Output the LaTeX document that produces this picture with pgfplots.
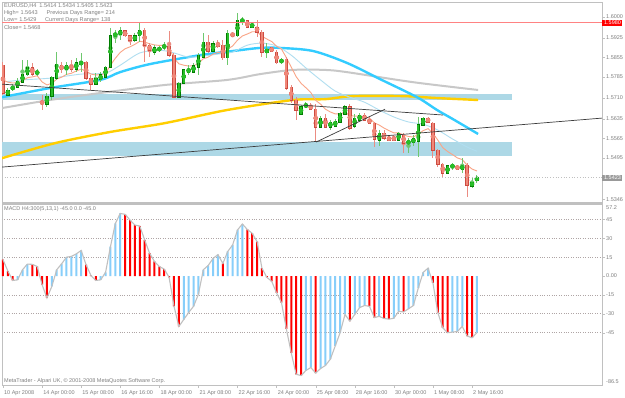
\documentclass[border=0pt]{standalone}
\usepackage{pgfplots}
\pgfplotsset{compat=1.18}
\usepackage{pgfplotstable}
\usepackage{fontspec}
\setmainfont{Liberation Sans}
\definecolor{bullfill}{RGB}{40,190,40}
\definecolor{bullline}{RGB}{0,125,0}
\definecolor{bullwick}{RGB}{110,200,110}
\definecolor{bearfill}{RGB}{240,135,120}
\definecolor{bearline}{RGB}{205,75,65}
\definecolor{bearwick}{RGB}{235,140,130}
\definecolor{skyma}{RGB}{51,204,255}
\definecolor{cyanma}{RGB}{176,222,240}
\definecolor{salmonma}{RGB}{250,165,135}
\definecolor{grayma}{RGB}{200,200,200}
\definecolor{goldma}{RGB}{255,206,0}
\definecolor{band}{RGB}{173,216,230}
\definecolor{redline}{RGB}{255,130,130}
\definecolor{txtgray}{RGB}{128,128,128}
\definecolor{framegray}{RGB}{192,192,192}
\definecolor{macdred}{RGB}{255,0,0}
\definecolor{macdblue}{RGB}{135,206,250}
\definecolor{macdline}{RGB}{192,192,192}
\definecolor{levelgray}{RGB}{175,165,165}
\definecolor{trend}{RGB}{60,60,60}
\newcommand\hf{\fontsize{5.6}{6.5}\selectfont}
\newcommand\af{\fontsize{5.5}{6}\selectfont}

\pgfplotstableread{
i o h l c
1 1.5720 1.5745 1.5716 1.5738
2 1.5738 1.5759 1.5734 1.5752
3 1.5748 1.5781 1.5745 1.5770
4 1.5766 1.5845 1.5763 1.5795
5 1.5792 1.5845 1.5788 1.5820
7 1.5799 1.5813 1.5788 1.5802
9 1.5687 1.5727 1.5677 1.5716
10 1.5716 1.5788 1.5702 1.5784
11 1.5781 1.5874 1.5774 1.5831
13 1.5810 1.5838 1.5792 1.5827
15 1.5813 1.5853 1.5802 1.5835
16 1.5831 1.5871 1.5802 1.5838
19 1.5759 1.5799 1.5756 1.5781
20 1.5774 1.5802 1.5766 1.5792
21 1.5784 1.5824 1.5781 1.5820
22 1.5820 1.5960 1.5817 1.5932
23 1.5935 1.5953 1.5906 1.5939
24 1.5939 1.5964 1.5917 1.5950
27 1.5917 1.5942 1.5910 1.5932
28 1.5932 1.5978 1.5910 1.5953
31 1.5874 1.5899 1.5863 1.5889
32 1.5881 1.5896 1.5874 1.5889
33 1.5889 1.5910 1.5881 1.5899
36 1.5712 1.5766 1.5709 1.5763
37 1.5763 1.5813 1.5759 1.5810
38 1.5802 1.5827 1.5792 1.5813
39 1.5802 1.5835 1.5799 1.5827
40 1.5820 1.5871 1.5792 1.5863
41 1.5856 1.5942 1.5853 1.5910
43 1.5878 1.5914 1.5874 1.5906
46 1.5853 1.5953 1.5827 1.5942
48 1.5932 1.6014 1.5928 1.5989
49 1.5986 1.6000 1.5971 1.5989
51 1.5964 1.5982 1.5960 1.5975
54 1.5871 1.5906 1.5853 1.5885
57 1.5835 1.5853 1.5831 1.5849
61 1.5651 1.5684 1.5648 1.5677
62 1.5677 1.5694 1.5673 1.5687
65 1.5605 1.5644 1.5601 1.5637
67 1.5605 1.5630 1.5594 1.5623
68 1.5608 1.5633 1.5605 1.5626
69 1.5623 1.5659 1.5619 1.5655
70 1.5651 1.5684 1.5648 1.5677
72 1.5608 1.5651 1.5601 1.5637
73 1.5630 1.5655 1.5626 1.5648
77 1.5558 1.5594 1.5536 1.5583
81 1.5558 1.5587 1.5554 1.5583
83 1.5547 1.5565 1.5511 1.5554
84 1.5551 1.5576 1.5536 1.5562
85 1.5554 1.5641 1.5497 1.5615
86 1.5612 1.5641 1.5608 1.5637
91 1.5439 1.5468 1.5436 1.5465
92 1.5461 1.5475 1.5450 1.5468
94 1.5454 1.5493 1.5439 1.5465
96 1.5393 1.5425 1.5386 1.5407
97 1.5414 1.5434 1.5405 1.5423
}\bull

\pgfplotstableread{
i o h l c
0 1.5827 1.5838 1.5720 1.5727
6 1.5817 1.5835 1.5788 1.5795
8 1.5696 1.5720 1.5666 1.5690
12 1.5827 1.5838 1.5799 1.5810
14 1.5827 1.5845 1.5802 1.5813
17 1.5838 1.5842 1.5774 1.5781
18 1.5781 1.5792 1.5738 1.5759
25 1.5950 1.5953 1.5928 1.5932
26 1.5932 1.5935 1.5899 1.5917
29 1.5953 1.5960 1.5838 1.5899
30 1.5899 1.5906 1.5856 1.5881
34 1.5896 1.5950 1.5856 1.5863
35 1.5863 1.5871 1.5709 1.5712
42 1.5910 1.5935 1.5871 1.5878
44 1.5906 1.5917 1.5889 1.5896
45 1.5899 1.5917 1.5845 1.5853
47 1.5939 1.5942 1.5928 1.5935
50 1.5986 1.5989 1.5960 1.5964
52 1.5964 1.5989 1.5928 1.5946
53 1.5946 1.5953 1.5856 1.5874
55 1.5889 1.5892 1.5874 1.5878
56 1.5874 1.5881 1.5831 1.5835
58 1.5849 1.5856 1.5738 1.5745
59 1.5748 1.5756 1.5691 1.5702
60 1.5702 1.5712 1.5630 1.5666
63 1.5684 1.5691 1.5666 1.5669
64 1.5669 1.5687 1.5551 1.5605
66 1.5637 1.5651 1.5601 1.5605
71 1.5677 1.5687 1.5594 1.5601
74 1.5648 1.5655 1.5626 1.5630
75 1.5633 1.5641 1.5615 1.5619
76 1.5619 1.5623 1.5533 1.5562
78 1.5583 1.5594 1.5558 1.5565
79 1.5569 1.5572 1.5554 1.5558
80 1.5569 1.5576 1.5554 1.5558
82 1.5576 1.5583 1.5511 1.5547
87 1.5637 1.5641 1.5619 1.5623
88 1.5619 1.5623 1.5493 1.5522
89 1.5522 1.5526 1.5461 1.5472
90 1.5472 1.5475 1.5425 1.5439
93 1.5465 1.5468 1.5450 1.5454
95 1.5468 1.5475 1.5353 1.5396
}\bear

\pgfplotstableread{
i m
0 13
1 4
2 -3.5
3 -3
4 5
5 9.5
6 9.3
7 7.6
8 -6.8
9 -17.4
10 -8.2
11 5
12 9.7
13 15
14 15.6
15 17.6
16 20.3
17 9
18 0.5
19 -3.5
20 -3
21 3
22 23.4
23 41.8
24 49.7
25 49
26 44.5
27 40.5
28 39.7
29 28.7
30 18.2
31 11.6
32 7.6
33 5.5
34 -1
35 -24
36 -40
37 -34.5
38 -29
39 -24
40 -14.5
41 5
42 8.4
43 14
44 17
45 10
46 19.5
47 24.7
48 36.6
49 41.3
50 37
51 34
52 27.4
53 6.3
54 -1
55 -4.2
56 -13.4
57 -21
58 -42
59 -61
60 -78
61 -79
62 -75
63 -72.6
64 -77
65 -73.4
66 -71
67 -66
68 -55.5
69 -45
70 -30.5
71 -35.8
72 -30.5
73 -25
74 -23.4
75 -24
76 -33
77 -32
78 -33.7
79 -34.2
80 -33.5
81 -28
82 -28.5
83 -26
84 -23.4
85 -9.5
86 2.9
87 6.3
88 -5.5
89 -29
90 -41
91 -45
92 -44.5
93 -44
94 -40
95 -47.6
96 -49
97 -45
}\macd

\pgfplotstableread{
i p
0 1.5774
1 1.5766
2 1.5763
3 1.5764
4 1.5771
5 1.5782
6 1.5785
7 1.5789
8 1.5767
9 1.5756
10 1.5762
11 1.5777
12 1.5784
13 1.5794
14 1.5798
15 1.5806
16 1.5813
17 1.5806
18 1.5795
19 1.5792
20 1.5792
21 1.5798
22 1.5827
23 1.5852
24 1.5873
25 1.5886
26 1.5893
27 1.5902
28 1.5913
29 1.5910
30 1.5904
31 1.5900
32 1.5898
33 1.5898
34 1.5891
35 1.5852
36 1.5832
37 1.5827
38 1.5824
39 1.5825
40 1.5833
41 1.5850
42 1.5856
43 1.5867
44 1.5873
45 1.5869
46 1.5885
47 1.5896
48 1.5917
49 1.5932
50 1.5939
51 1.5947
52 1.5947
53 1.5931
54 1.5921
55 1.5912
56 1.5895
57 1.5885
58 1.5854
59 1.5820
60 1.5786
61 1.5762
62 1.5746
63 1.5729
64 1.5701
65 1.5687
66 1.5669
67 1.5659
68 1.5652
69 1.5652
70 1.5658
71 1.5646
72 1.5644
73 1.5645
74 1.5641
75 1.5637
76 1.5620
77 1.5612
78 1.5601
79 1.5592
80 1.5584
81 1.5584
82 1.5576
83 1.5571
84 1.5569
85 1.5579
86 1.5592
87 1.5599
88 1.5582
89 1.5558
90 1.5531
91 1.5517
92 1.5506
93 1.5494
94 1.5488
95 1.5468
96 1.5454
97 1.5447
}\salmon

\pgfplotsset{
  candle/.style n args={2}{#1, only marks, mark=none,
    error bars/.cd, y dir=both, y explicit, error mark=none,
    error bar style={line width=#2, color=#1, draw=#1}},
}

\begin{document}
\begin{tikzpicture}
\useasboundingbox (0pt,0pt) rectangle (625pt,-397pt);
\fill[white] (0pt,0pt) rectangle (625pt,-397pt);

% ---------------- price panel ----------------
\begin{axis}[
  at={(2pt,-2pt)}, anchor=north west, scale only axis,
  width=600pt, height=201pt,
  xmin=-0.2, xmax=122.6, ymin=1.5332, ymax=1.6054,
  clip mode=individual,
  axis line style={framegray, line width=0.8pt},
  xtick=\empty,
  ytick={1.5346,1.5495,1.5565,1.5635,1.5710,1.5785,1.5855,1.5925,1.6000},
  yticklabels={1.5346,1.5495,1.5565,1.5635,1.5710,1.5785,1.5855,1.5925,1.6000},
  ytick pos=right, yticklabel pos=right, tick align=outside,
  major tick length=3pt, tick style={framegray},
  yticklabel style={font=\af, text=txtgray, anchor=west, inner sep=1pt},
]
% zones
\addplot[fill=band, draw=none] coordinates {(-0.2,1.5702) (104.2,1.5702) (104.2,1.5723) (-0.2,1.5723)} -- cycle;
\addplot[fill=band, draw=none] coordinates {(-0.2,1.5500) (104.2,1.5500) (104.2,1.5551) (-0.2,1.5551)} -- cycle;
% moving averages
\addplot[goldma, line width=2.4pt, smooth] coordinates {(-0.2,1.5493) (10.64,1.5547) (21.9,1.5587) (33.16,1.5619) (45.85,1.5666) (59.37,1.5702) (65.92,1.5705) (71.65,1.5716) (81.88,1.5716) (88.84,1.5709) (97.24,1.5702)};
\addplot[grayma, line width=2pt, smooth] coordinates {(-0.2,1.5673) (9.62,1.5702) (19.86,1.5727) (33.16,1.5756) (45.85,1.5774) (52.61,1.5795) (59.37,1.5810) (65.92,1.5810) (70.42,1.5802) (83.93,1.5766) (97.24,1.5738)};
\addplot[skyma, line width=2.4pt, smooth] coordinates {(-0.2,1.5712) (9.62,1.5745) (19.86,1.5774) (23.95,1.5802) (30.09,1.5831) (40.33,1.5863) (47.08,1.5878) (52.61,1.5889) (56.7,1.5889) (63.46,1.5878) (70.42,1.5835) (77.18,1.5777) (84.75,1.5712) (88.84,1.5666) (92.12,1.5633) (97.24,1.5580)};
\addplot[cyanma, line width=0.9pt, smooth] coordinates {(-0.2,1.5766) (4,1.5774) (10,1.5781) (16,1.5795) (21,1.5799) (24,1.5827) (28,1.5871) (32,1.5881) (35,1.5871) (38,1.5856) (41,1.5860) (44,1.5867) (47,1.5874) (50,1.5899) (53,1.5906) (56,1.5896) (59,1.5863) (62,1.5817) (65,1.5774) (68,1.5734) (71,1.5712) (74,1.5694) (77,1.5666) (80,1.5641) (83,1.5623) (86,1.5615) (89,1.5594) (92,1.5562) (95,1.5533) (97,1.5518)};
\addplot[salmonma, line width=0.9pt] table[x=i, y=p] {\salmon};
% candles: bull
\addplot[candle={bullwick}{1pt}]
  table[x=i, y expr={(\thisrow{h}+\thisrow{l})/2}, y error expr={(\thisrow{h}-\thisrow{l})/2}] {\bull};
\addplot[candle={bullline}{3.4pt}]
  table[x=i, y expr={(\thisrow{o}+\thisrow{c})/2}, y error expr={abs(\thisrow{o}-\thisrow{c})/2+0.00018}] {\bull};
\addplot[candle={bullfill}{1.8pt}]
  table[x=i, y expr={(\thisrow{o}+\thisrow{c})/2}, y error expr={max(abs(\thisrow{o}-\thisrow{c})/2-0.0001,0)}] {\bull};
% candles: bear
\addplot[candle={bearwick}{1pt}]
  table[x=i, y expr={(\thisrow{h}+\thisrow{l})/2}, y error expr={(\thisrow{h}-\thisrow{l})/2}] {\bear};
\addplot[candle={bearline}{3.4pt}]
  table[x=i, y expr={(\thisrow{o}+\thisrow{c})/2}, y error expr={abs(\thisrow{o}-\thisrow{c})/2+0.00018}] {\bear};
\addplot[candle={bearfill}{1.8pt}]
  table[x=i, y expr={(\thisrow{o}+\thisrow{c})/2}, y error expr={max(abs(\thisrow{o}-\thisrow{c})/2-0.0001,0)}] {\bear};
% trend lines and levels
\addplot[trend, line width=0.7pt] coordinates {(-0.2,1.5759) (90.07,1.5648)};
\addplot[trend, line width=0.7pt] coordinates {(-0.2,1.5461) (122.6,1.5637)};
\addplot[trend, line width=0.7pt] coordinates {(64.1,1.5551) (78.2,1.5669)};
\addplot[redline, line width=1.2pt] coordinates {(-0.2,1.5980) (122.6,1.5980)};
\addplot[framegray, dotted, line width=0.7pt] coordinates {(-0.2,1.5423) (122.6,1.5423)};
\node[fill=red, text=white, font=\af, anchor=west, inner sep=1pt] at (axis cs:122.6,1.5980) {\,1.5980};
\node[fill=gray!80, text=white, font=\af, anchor=west, inner sep=1pt] at (axis cs:122.6,1.5423) {\,1.5423};
\end{axis}

% ---------------- MACD panel ----------------
\begin{axis}[
  at={(2pt,-204pt)}, anchor=north west, scale only axis,
  width=600pt, height=181pt,
  xmin=-0.2, xmax=122.6, ymin=-86.5, ymax=57.2,
  clip mode=individual,
  axis line style={framegray, line width=0.8pt},
  xtick={0,8,16,24,32,40,48,56,64,72,80,88,96},
  xticklabels={10 Apr 2008,14 Apr 00:00,15 Apr 08:00,16 Apr 16:00,18 Apr 00:00,21 Apr 08:00,22 Apr 16:00,24 Apr 00:00,25 Apr 08:00,28 Apr 16:00,30 Apr 00:00,1 May 08:00,2 May 16:00},
  xtick pos=bottom, xticklabel pos=bottom,
  xticklabel style={font=\af, text=txtgray, anchor=north west, inner sep=0pt, xshift=1pt, yshift=-2pt},
  ytick={-45,-30,-15,15,30,45},
  yticklabels={-45,-30,-15,15,30,45},
  extra y ticks={0}, extra y tick labels={0.00},
  extra y tick style={grid=none},
  ymajorgrids, grid style={levelgray, dotted, line width=0.7pt},
  ytick pos=right, yticklabel pos=right, tick align=outside,
  major tick length=3pt, tick style={framegray},
  yticklabel style={font=\af, text=txtgray, anchor=west, inner sep=1pt},
]
\addplot[ybar, bar width=2pt, bar shift=0pt, fill=macdred, draw=none] coordinates {(0,13) (1,4) (2,-3.5) (6,9.3) (7,7.6) (8,-6.8) (9,-17.4) (17,9) (18,0.5) (19,-3.5) (25,49) (26,44.5) (27,40.5) (28,39.7) (29,28.7) (30,18.2) (31,11.6) (32,7.6) (33,5.5) (34,-1) (35,-24) (36,-40) (45,10) (50,37) (51,34) (52,27.4) (53,6.3) (54,-1) (55,-4.2) (56,-13.4) (57,-21) (58,-42) (59,-61) (60,-78) (61,-79) (64,-77) (71,-35.8) (75,-24) (76,-33) (78,-33.7) (79,-34.2) (82,-28.5) (88,-5.5) (89,-29) (90,-41) (91,-45) (95,-47.6) (96,-49)};
\addplot[ybar, bar width=2pt, bar shift=0pt, fill=macdblue, draw=none] coordinates {(3,-3) (4,5) (5,9.5) (10,-8.2) (11,5) (12,9.7) (13,15) (14,15.6) (15,17.6) (16,20.3) (20,-3) (21,3) (22,23.4) (23,41.8) (24,49.7) (37,-34.5) (38,-29) (39,-24) (40,-14.5) (41,5) (42,8.4) (43,14) (44,17) (46,19.5) (47,24.7) (48,36.6) (49,41.3) (62,-75) (63,-72.6) (65,-73.4) (66,-71) (67,-66) (68,-55.5) (69,-45) (70,-30.5) (72,-30.5) (73,-25) (74,-23.4) (77,-32) (80,-33.5) (81,-28) (83,-26) (84,-23.4) (85,-9.5) (86,2.9) (87,6.3) (92,-44.5) (93,-44) (94,-40) (97,-45)};
\addplot[macdline, line width=1.1pt] table[x=i, y=m] {\macd};
\end{axis}

\draw[framegray, line width=2.2pt] (2pt,-203.3pt) -- (602pt,-203.3pt);

% texts
\begin{scope}[every node/.style={anchor=west, inner sep=0pt, text=txtgray, font=\hf}]
\node at (4pt,-5.7pt) {EURUSD,H4\enspace 1.5414 1.5434 1.5405 1.5423};
\node at (4pt,-12.7pt) {High= 1.5643};
\node at (46.5pt,-12.7pt) {Previous Days Range= 214};
\node at (4pt,-19.7pt) {Low= 1.5429};
\node at (45pt,-19.7pt) {Current Days Range= 138};
\node at (4pt,-27.3pt) {Close= 1.5468};
\node[font=\af] at (4pt,-209.3pt) {MACD H4:300(5,13,1) -45.0 0.0 -45.0};
\node[font=\af] at (4pt,-381.5pt) {MetaTrader - Alpari UK, © 2001-2008 MetaQuotes Software Corp.};
\node[font=\af] at (606pt,-207.5pt) {57.2};
\node[font=\af] at (606pt,-382pt) {-86.5};
\end{scope}
\end{tikzpicture}
\end{document}
